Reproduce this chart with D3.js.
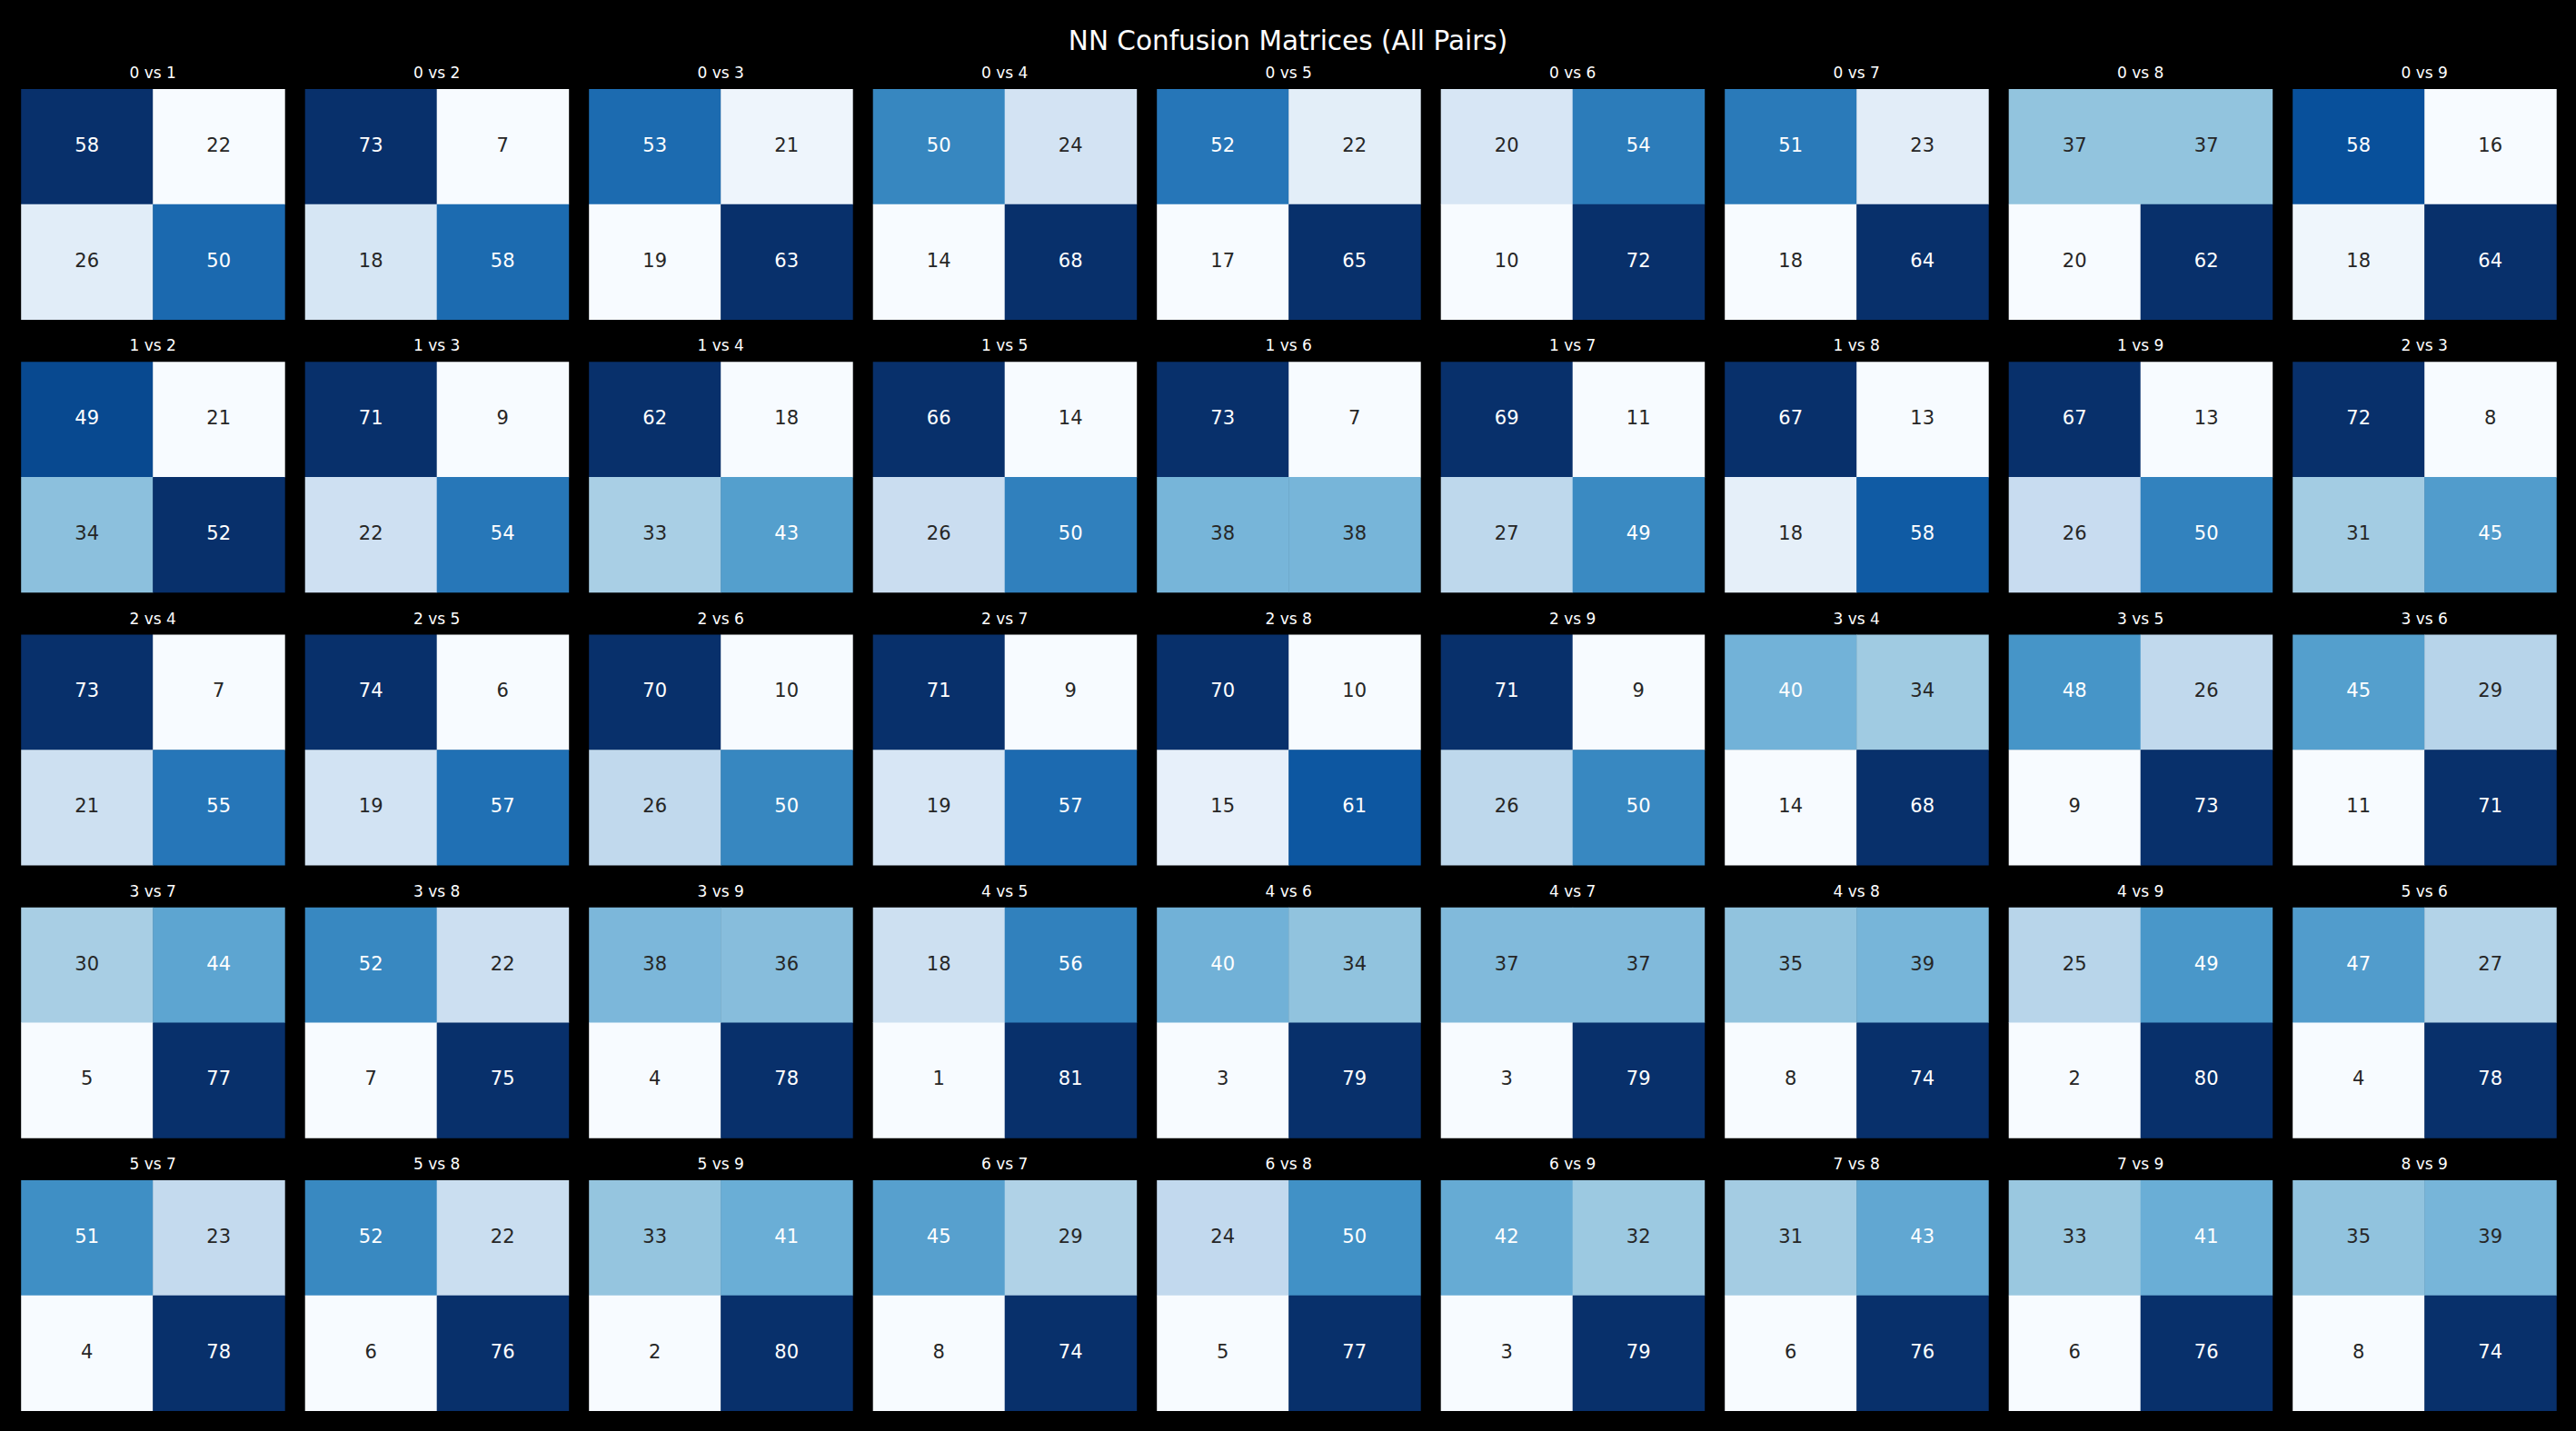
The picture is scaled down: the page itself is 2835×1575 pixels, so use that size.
<!DOCTYPE html>
<html>

<head>
    <title>NN Confusion Matrices</title>
    <script src="https://d3js.org/d3.v7.min.js" charset="utf-8"></script>
    <style>
        body { margin: 0; background: #000; }
        svg { display: block; }
    </style>
</head>

<body>
    <script>
        var width = 2835;
        var height = 1575;

        // digit classes, every pair i < j gets a panel
        var classes = [0, 1, 2, 3, 4, 5, 6, 7, 8, 9];

        // cell values, one entry per pair in order (0 vs 1, 0 vs 2, ... 8 vs 9)
        var topLeft = [58, 73, 53, 50, 52, 20, 51, 37, 58,
            49, 71, 62, 66, 73, 69, 67, 67, 72,
            73, 74, 70, 71, 70, 71, 40, 48, 45,
            30, 52, 38, 18, 40, 37, 35, 25, 47,
            51, 52, 33, 45, 24, 42, 31, 33, 35];
        var topRight = [22, 7, 21, 24, 22, 54, 23, 37, 16,
            21, 9, 18, 14, 7, 11, 13, 13, 8,
            7, 6, 10, 9, 10, 9, 34, 26, 29,
            44, 22, 36, 56, 34, 37, 39, 49, 27,
            23, 22, 41, 29, 50, 32, 43, 41, 39];
        var bottomLeft = [26, 18, 19, 14, 17, 10, 18, 20, 18,
            34, 22, 33, 26, 38, 27, 18, 26, 31,
            21, 19, 26, 19, 15, 26, 14, 9, 11,
            5, 7, 4, 1, 3, 3, 8, 2, 4,
            4, 6, 2, 8, 5, 3, 6, 6, 8];
        var bottomRight = [50, 58, 63, 68, 65, 72, 64, 62, 64,
            52, 54, 43, 50, 38, 49, 58, 50, 45,
            55, 57, 50, 57, 61, 50, 68, 73, 71,
            77, 75, 78, 81, 79, 79, 74, 80, 78,
            78, 76, 80, 74, 77, 79, 76, 76, 74];

        var pairs = [];
        classes.forEach(function (a) {
            classes.forEach(function (b) {
                if (b > a) pairs.push([a, b]);
            });
        });

        // matplotlib "Blues"
        var bluesStops = ["#f7fbff", "#deebf7", "#c6dbef", "#9ecae1", "#6baed6",
            "#4292c6", "#2171b5", "#08519c", "#08306b"];
        var blues = d3.scaleLinear()
            .domain(d3.range(9).map(function (i) { return i / 8; }))
            .range(bluesStops)
            .interpolate(d3.interpolateRgb);

        function cellColor(t) {
            var idx = Math.min(255, Math.floor(t * 256));
            return blues(idx / 255);
        }

        // seaborn picks the annotation colour from the cell luminance
        function textColor(fill) {
            var c = d3.rgb(fill);
            var lum = [[c.r, 0.2126], [c.g, 0.7152], [c.b, 0.0722]].reduce(function (s, p) {
                var v = p[0] / 255;
                v = v <= 0.03928 ? v / 12.92 : Math.pow((v + 0.055) / 1.055, 2.4);
                return s + v * p[1];
            }, 0);
            return lum > 0.408 ? "#262626" : "#ffffff";
        }

        var nCols = 9, nRows = 5;
        var panelW = 290, panelH = 253.5;
        var colPitch = 312.5, rowPitch = 300.25;
        var x0 = 23.2, y0 = 98;

        var colX = d3.scaleLinear().domain([0, 1]).range([x0, x0 + colPitch]);
        var rowY = d3.scaleLinear().domain([0, 1]).range([y0, y0 + rowPitch]);
        var cellX = d3.scaleBand().domain([0, 1]).range([0, panelW]);
        var cellY = d3.scaleBand().domain([0, 1]).range([0, panelH]);

        var svg = d3.select("body").append("svg")
            .attr("width", width)
            .attr("height", height)
            .style("font-family", "'DejaVu Sans', sans-serif");

        svg.append("rect")
            .attr("width", width)
            .attr("height", height)
            .attr("fill", "#000");

        svg.append("text")
            .attr("x", width / 2)
            .attr("y", 55)
            .attr("text-anchor", "middle")
            .attr("font-size", 29.5)
            .attr("fill", "#fff")
            .text("NN Confusion Matrices (All Pairs)");

        var panels = svg.selectAll("g.panel")
            .data(pairs)
            .enter()
            .append("g")
            .attr("class", "panel")
            .attr("transform", function (d, i) {
                return "translate(" + colX(i % nCols) + "," + rowY(Math.floor(i / nCols)) + ")";
            });

        panels.append("text")
            .attr("x", panelW / 2)
            .attr("y", -12)
            .attr("text-anchor", "middle")
            .attr("font-size", 17)
            .attr("fill", "#fff")
            .text(function (d) { return d[0] + " vs " + d[1]; });

        panels.each(function (d, i) {
            var vals = [
                { r: 0, c: 0, v: topLeft[i] },
                { r: 0, c: 1, v: topRight[i] },
                { r: 1, c: 0, v: bottomLeft[i] },
                { r: 1, c: 1, v: bottomRight[i] }
            ];
            var ext = d3.extent(vals, function (e) { return e.v; });
            var norm = d3.scaleLinear().domain(ext).range([0, 1]).clamp(true);
            vals.forEach(function (e) { e.fill = cellColor(norm(e.v)); });

            var g = d3.select(this);
            g.selectAll("rect")
                .data(vals)
                .enter()
                .append("rect")
                .attr("x", function (e) { return cellX(e.c); })
                .attr("y", function (e) { return cellY(e.r); })
                .attr("width", cellX.bandwidth() + 0.5)
                .attr("height", cellY.bandwidth() + 0.5)
                .attr("fill", function (e) { return e.fill; });

            g.selectAll("text.val")
                .data(vals)
                .enter()
                .append("text")
                .attr("class", "val")
                .attr("x", function (e) { return cellX(e.c) + cellX.bandwidth() / 2; })
                .attr("y", function (e) { return cellY(e.r) + cellY.bandwidth() / 2 + 5.5; })
                .attr("text-anchor", "middle")
                .attr("font-size", 21)
                .attr("fill", function (e) { return textColor(e.fill); })
                .text(function (e) { return e.v; });
        });
    </script>
</body>

</html>
